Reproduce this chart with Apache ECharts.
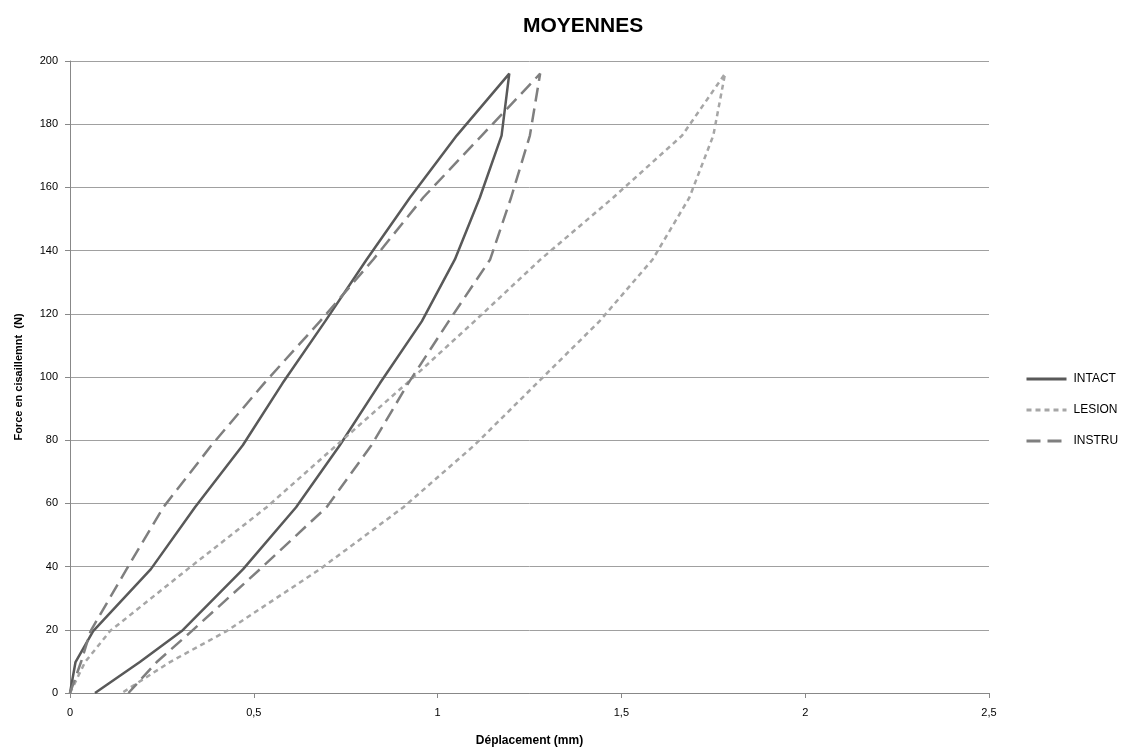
<!DOCTYPE html>
<html>
<head>
<meta charset="utf-8">
<title>MOYENNES</title>
<script src="https://cdn.jsdelivr.net/npm/echarts@6/dist/echarts.min.js"></script>
<style>
  html, body { margin: 0; padding: 0; background: #fff; }
  #chart { width: 1130px; height: 752px; }
</style>
</head>
<body>
<div id="chart"></div>
<script>
// force levels (N), loading then unloading
const forceLoop = [0, 9.8, 19.6, 39.2, 58.8, 78.4, 98, 117.6, 137.2, 156.8, 176.4, 196,
  176.4, 156.8, 137.2, 117.6, 98, 78.4, 58.8, 39.2, 19.6, 9.8, 0]

// displacement (mm) for each force level
const intactX = [0, 0.015, 0.063, 0.22, 0.34, 0.47, 0.578, 0.694, 0.807, 0.925, 1.052, 1.195,
  1.174, 1.115, 1.047, 0.957, 0.843, 0.734, 0.615, 0.471, 0.304, 0.19, 0.068]
const lesionX = [0, 0.041, 0.109, 0.32, 0.535, 0.725, 0.916, 1.1, 1.28, 1.478, 1.665, 1.782,
  1.75, 1.685, 1.585, 1.44, 1.27, 1.1, 0.907, 0.68, 0.426, 0.272, 0.141]
const instruX = [0, 0.03, 0.056, 0.154, 0.254, 0.385, 0.528, 0.68, 0.825, 0.961, 1.12, 1.279,
  1.251, 1.2, 1.143, 1.03, 0.92, 0.82, 0.698, 0.517, 0.331, 0.236, 0.159]

const xTicks = [0, 0.5, 1, 1.5, 2, 2.5]
const yTicks = [0, 20, 40, 60, 80, 100, 120, 140, 160, 180, 200]

function pairs(xs) {
  return xs.map((x, i) => [x, forceLoop[i]])
}

const font = 'Liberation Sans'
const chart = echarts.init(document.getElementById('chart'))

chart.setOption({
  backgroundColor: '#fff',
  animation: false,
  title: {
    text: 'MOYENNES',
    left: 518,
    top: 11,
    textStyle: { fontFamily: font, fontSize: 21, fontWeight: 'bold', color: '#000' }
  },
  grid: { left: 70, right: 141, top: 61, bottom: 58, containLabel: false },
  legend: {
    orient: 'vertical',
    left: 1020,
    top: 368,
    itemGap: 19,
    itemWidth: 40,
    itemHeight: 12,
    itemStyle: { opacity: 0 },
    lineStyle: { width: 3 },
    textStyle: { fontFamily: font, fontSize: 12, color: '#000', padding: [0, 0, 0, 2] },
    data: ['INTACT', 'LESION', 'INSTRU']
  },
  xAxis: {
    type: 'value',
    min: xTicks[0],
    max: xTicks[xTicks.length - 1],
    interval: 0.5,
    name: 'Déplacement (mm)',
    nameLocation: 'middle',
    nameGap: 42,
    nameTextStyle: { fontFamily: font, fontSize: 12, fontWeight: 'bold', color: '#000' },
    axisLine: { lineStyle: { color: '#888', width: 1 } },
    axisTick: { show: true, length: 5, lineStyle: { color: '#888' } },
    axisLabel: {
      fontFamily: font, fontSize: 11, color: '#000', margin: 14,
      formatter: v => String(v).replace('.', ',')
    },
    splitLine: { show: false }
  },
  yAxis: {
    type: 'value',
    min: yTicks[0],
    max: yTicks[yTicks.length - 1],
    interval: 20,
    name: 'Force en cisaillemnt  (N)',
    nameLocation: 'middle',
    nameGap: 46,
    nameTextStyle: { fontFamily: font, fontSize: 11, fontWeight: 'bold', color: '#000' },
    axisLine: { show: true, lineStyle: { color: '#888', width: 1 } },
    axisTick: { show: true, length: 5, lineStyle: { color: '#888' } },
    axisLabel: { fontFamily: font, fontSize: 11, color: '#000', margin: 12 },
    splitLine: { show: true, lineStyle: { color: '#a0a0a0', width: 1 } }
  },
  series: [
    {
      name: 'INTACT',
      type: 'line',
      data: pairs(intactX),
      symbol: 'none',
      lineStyle: { color: '#595959', width: 2.5 },
      itemStyle: { color: '#595959' }
    },
    {
      name: 'LESION',
      type: 'line',
      data: pairs(lesionX),
      symbol: 'none',
      lineStyle: { color: '#a6a6a6', width: 2.5, type: [5, 4] },
      itemStyle: { color: '#a6a6a6' }
    },
    {
      name: 'INSTRU',
      type: 'line',
      data: pairs(instruX),
      symbol: 'none',
      lineStyle: { color: '#7f7f7f', width: 2.5, type: [14, 7] },
      itemStyle: { color: '#7f7f7f' }
    }
  ]
})
</script>
</body>
</html>
